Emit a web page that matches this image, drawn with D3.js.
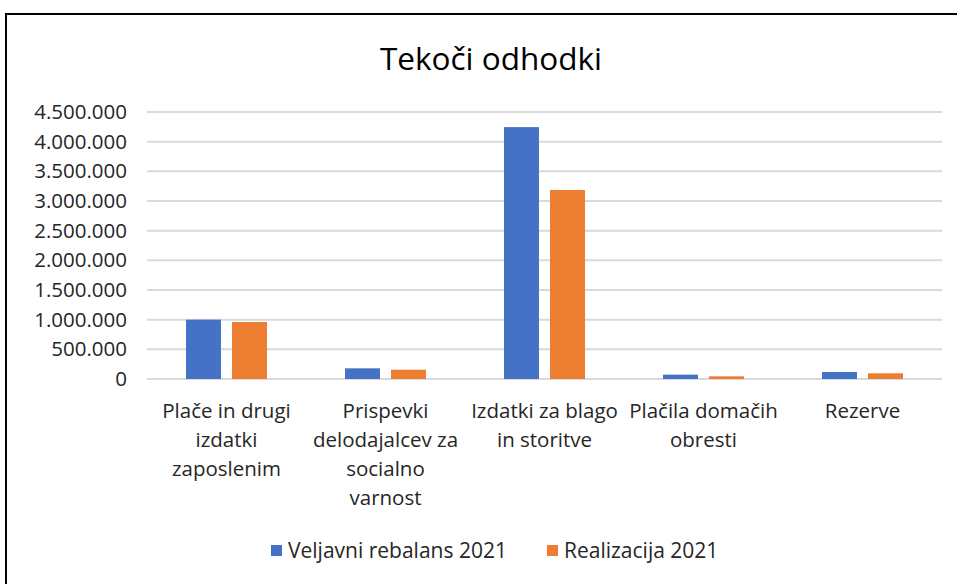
<!DOCTYPE html>
<html>
<head>
<meta charset="utf-8">
<script src="https://cdn.jsdelivr.net/npm/d3@7"></script>
<style>
  body { margin: 0; background: #fff; }
  svg { display: block; font-family: "Open Sans", Lato, sans-serif; }
</style>
</head>
<body>
<svg id="chart" width="957" height="584"></svg>
<script>
// Data
var categories = [
  ["Plače in drugi", "izdatki", "zaposlenim"],
  ["Prispevki", "delodajalcev za", "socialno", "varnost"],
  ["Izdatki za blago", "in storitve"],
  ["Plačila domačih", "obresti"],
  ["Rezerve"]
];
var seriesNames = ["Veljavni rebalans 2021", "Realizacija 2021"];
var seriesColors = ["#4472c4", "#ed7d31"];
var rebalans = [1000000, 180000, 4245000, 73000, 118000];
var realizacija = [960000, 157000, 3185000, 45000, 96000];
var yTicks = [0, 500000, 1000000, 1500000, 2000000, 2500000, 3000000, 3500000, 4000000, 4500000];

var svg = d3.select("#chart");

// outer chart frame (only top/left edges are visible in the window)
svg.append("rect")
  .attr("x", 6).attr("y", 14)
  .attr("width", 1000).attr("height", 700)
  .attr("fill", "#fff").attr("stroke", "#000").attr("stroke-width", 2);

var plot = { left: 147, right: 942, top: 112, bottom: 379 };

var x = d3.scaleBand()
  .domain(d3.range(categories.length))
  .range([plot.left, plot.right]);

var x1 = d3.scaleBand()
  .domain([0, 1])
  .range([39, x.bandwidth() - 39])
  .paddingInner(0.24);

var y = d3.scaleLinear()
  .domain([0, 4500000])
  .range([plot.bottom, plot.top]);

// thousand separators as dots
var fmt = function(v) { return d3.format(",")(v).replace(/,/g, "."); };

// gridlines
svg.append("g")
  .selectAll("line")
  .data(yTicks)
  .join("line")
  .attr("x1", plot.left).attr("x2", plot.right)
  .attr("y1", function(d) { return y(d); })
  .attr("y2", function(d) { return y(d); })
  .attr("stroke", "#d9d9d9").attr("stroke-width", 2);

// y axis labels
var yAxis = d3.axisLeft(y).tickValues(yTicks).tickFormat(fmt).tickSize(0).tickPadding(0);
var gy = svg.append("g")
  .attr("transform", "translate(127,0)")
  .call(yAxis);
gy.select(".domain").remove();
gy.selectAll("text")
  .attr("font-family", "'Open Sans', sans-serif")
  .attr("font-size", 20.5)
  .attr("fill", "#262626");

// bars
var data = categories.map(function(c, i) { return [rebalans[i], realizacija[i]]; });
var groups = svg.append("g")
  .selectAll("g")
  .data(data)
  .join("g")
  .attr("transform", function(d, i) { return "translate(" + x(i) + ",0)"; });

groups.selectAll("rect")
  .data(function(d) { return d; })
  .join("rect")
  .attr("x", function(d, j) { return x1(j); })
  .attr("width", x1.bandwidth())
  .attr("y", function(d) { return y(d); })
  .attr("height", function(d) { return y(0) - y(d); })
  .attr("fill", function(d, j) { return seriesColors[j]; });

// category labels, pre-wrapped
var cat = svg.append("g")
  .selectAll("text")
  .data(categories)
  .join("text")
  .attr("text-anchor", "middle")
  .attr("font-size", 20.5)
  .attr("fill", "#262626");
cat.selectAll("tspan")
  .data(function(d, i) { return d.map(function(t) { return { t: t, i: i }; }); })
  .join("tspan")
  .attr("x", function(d) { return x(d.i) + x.bandwidth() / 2; })
  .attr("y", function(d, k) { return 418 + k * 29; })
  .text(function(d) { return d.t; });

// title
svg.append("text")
  .attr("x", 491).attr("y", 70)
  .attr("text-anchor", "middle")
  .attr("font-size", 31.5)
  .attr("fill", "#000")
  .text("Tekoči odhodki");

// legend
var legendX = [271, 547];
var leg = svg.append("g")
  .selectAll("g")
  .data(seriesNames)
  .join("g")
  .attr("transform", function(d, i) { return "translate(" + legendX[i] + ",545)"; });
leg.append("rect")
  .attr("width", 11).attr("height", 11)
  .attr("fill", function(d, i) { return seriesColors[i]; });
leg.append("text")
  .attr("x", 17).attr("y", 13)
  .attr("font-size", 21)
  .attr("fill", "#262626")
  .text(function(d) { return d; });
</script>
</body>
</html>
